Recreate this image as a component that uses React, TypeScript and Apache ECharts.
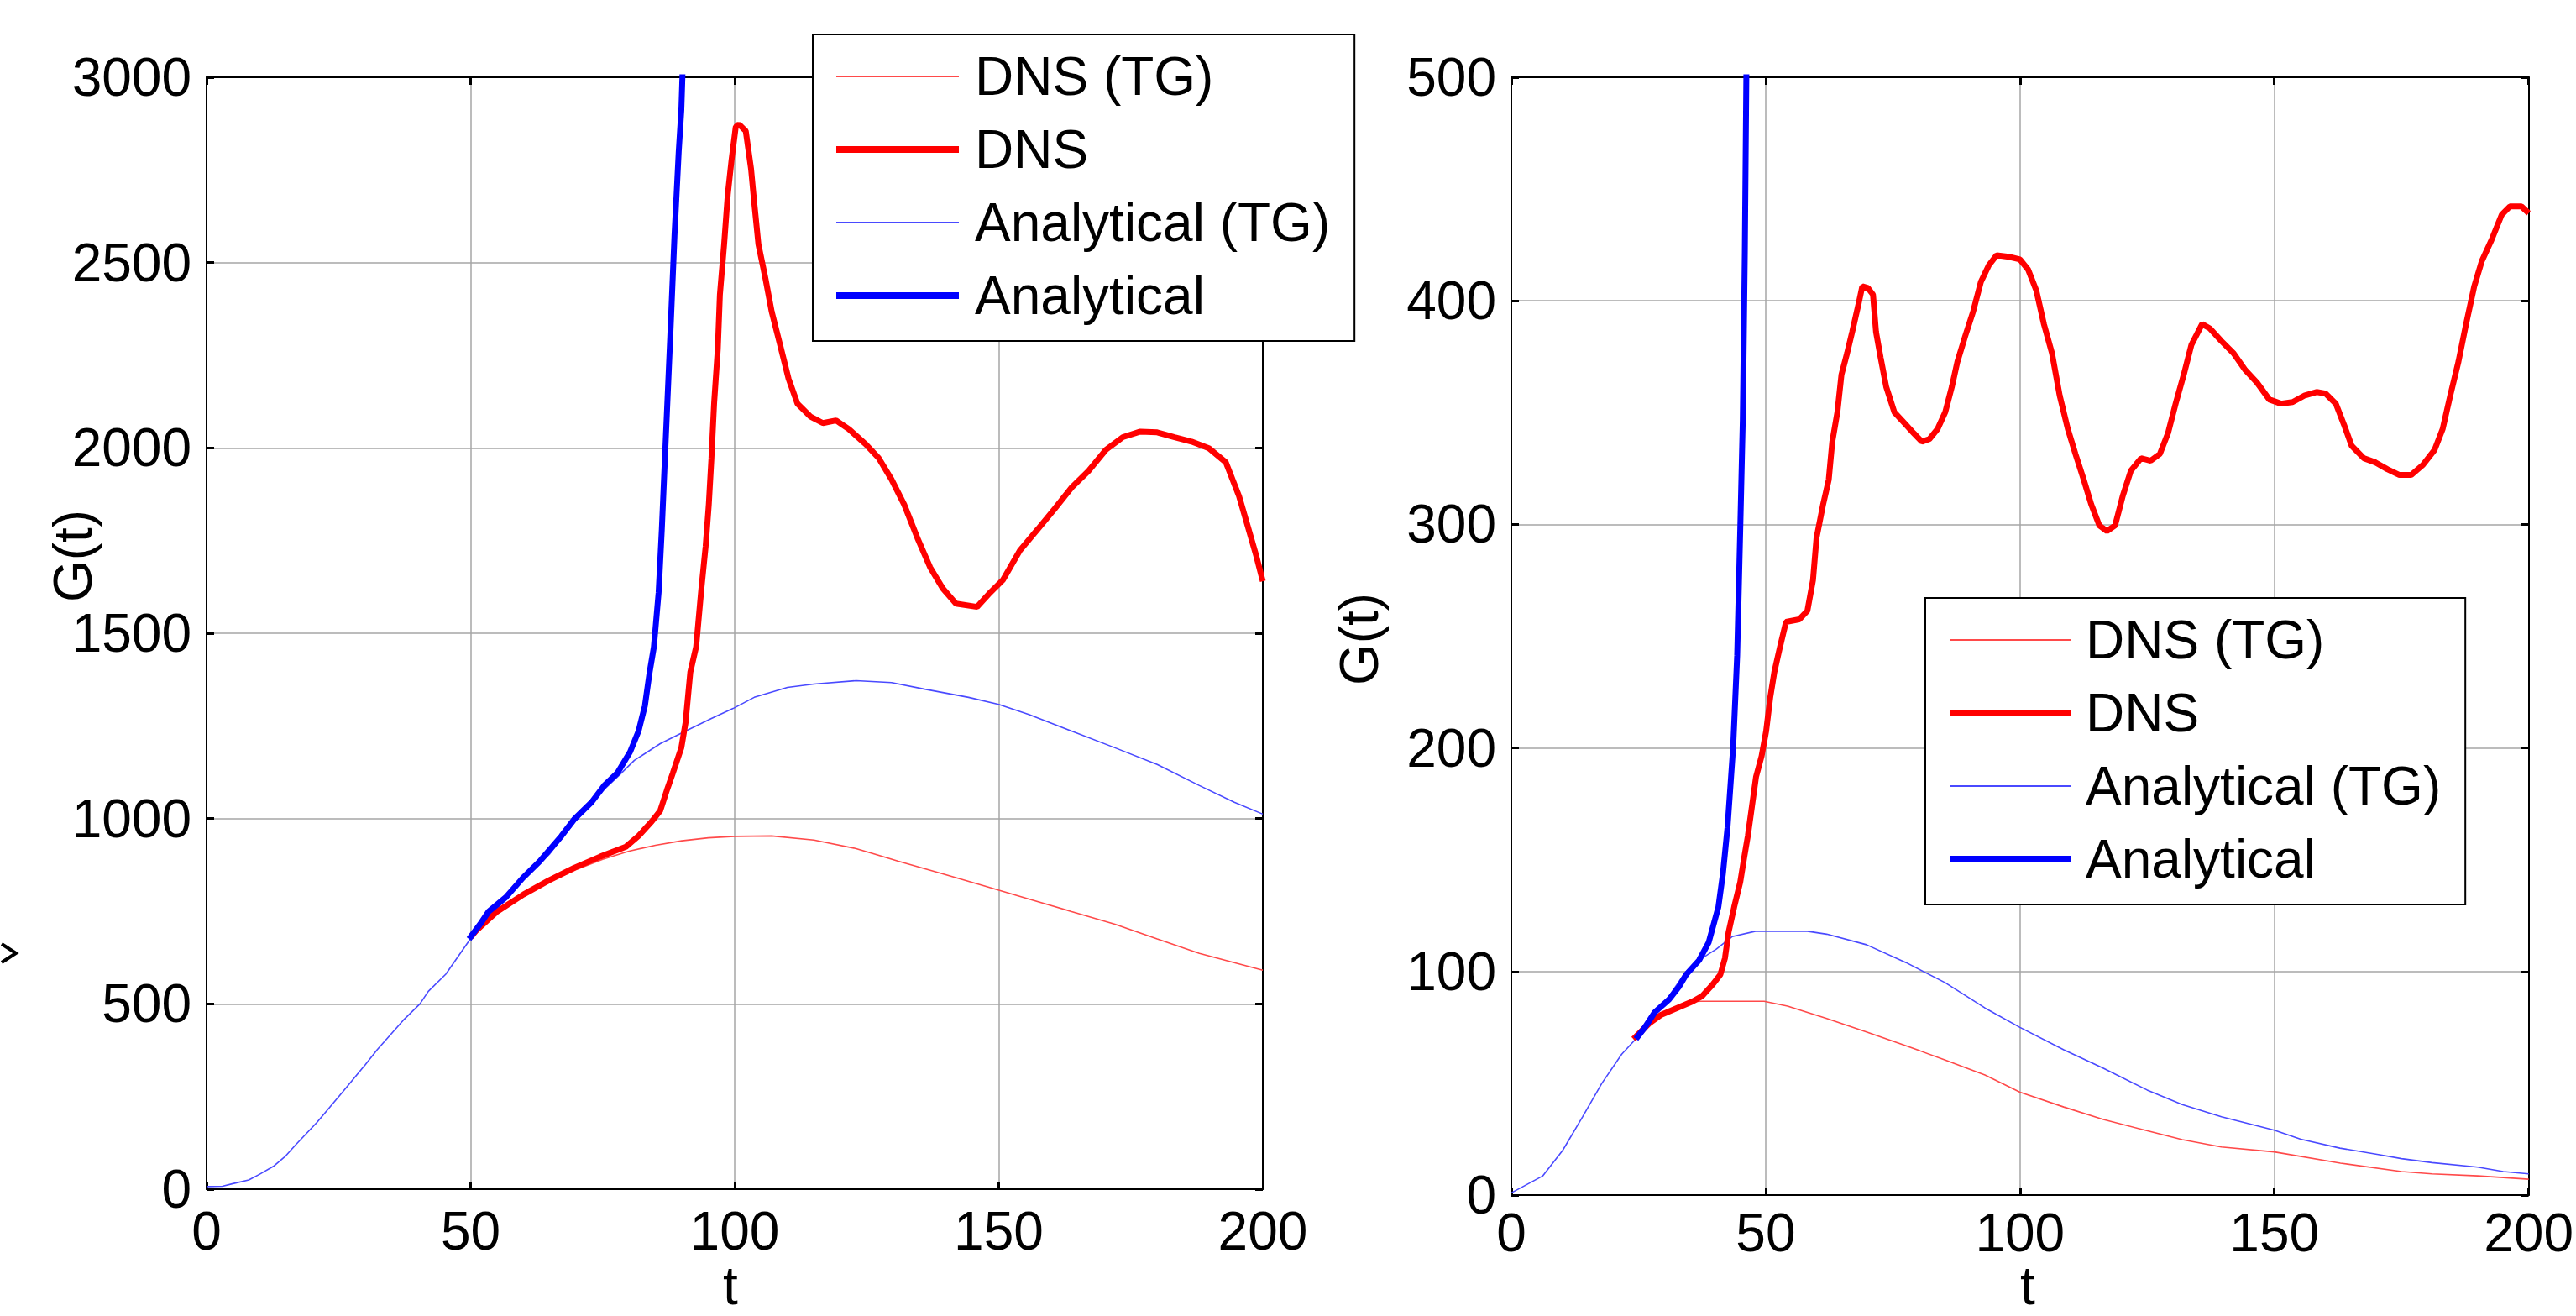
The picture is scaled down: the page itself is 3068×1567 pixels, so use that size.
import React, { useEffect, useRef } from "react";
import * as echarts from "echarts";

const FONT = "Liberation Sans, Arial, Helvetica, sans-serif";

const seriesNames = ["DNS (TG)", "DNS", "Analytical (TG)", "Analytical"];
const axisTitleX = "t";
const axisTitleY = "G(t)";
const leftYMax = 3000;
const leftYStep = 500;
const rightYMax = 500;
const rightYStep = 100;
const xMax = 200;
const xStep = 50;

// ---- Left panel data: [t, G(t)] ----
const leftDnsTG: number[][] = [
  [50, 675], [55, 745], [60, 790], [65, 830], [70, 862], [75, 890], [80, 912], [85, 928],
  [90, 940], [95, 948], [100, 952], [107, 953], [115, 942], [123, 919], [131, 885],
  [139.4, 851], [147.6, 817], [155.7, 783], [163.8, 749], [172, 715], [180, 675],
  [188, 636], [200, 591],
];
const leftDns: number[][] = [
  [50, 680], [51, 697], [55, 749], [60, 795], [64.8, 833], [69.6, 867], [74.5, 897],
  [79.4, 924], [81.8, 953], [84.3, 992], [85.9, 1021], [87.2, 1078], [88.3, 1123],
  [89.9, 1191], [90.7, 1259], [91.6, 1395], [92.7, 1463], [93.7, 1621], [94.5, 1734],
  [95.1, 1847], [95.6, 1972], [96.1, 2119], [96.8, 2266], [97.2, 2413], [98, 2549],
  [98.7, 2685], [99.4, 2776], [100.2, 2866], [100.8, 2873], [102.1, 2855], [103.1, 2753],
  [103.7, 2662], [104.5, 2549], [105.8, 2459], [107, 2368], [108.6, 2278], [110.2, 2187],
  [111.9, 2119], [114.3, 2085], [116.7, 2067], [119.2, 2074], [121.6, 2051], [124.8, 2010],
  [127.3, 1972], [129.7, 1915], [132.1, 1847], [134.6, 1757], [137, 1678], [139.4, 1621],
  [141.9, 1580], [145.9, 1571], [148.4, 1610], [150.8, 1644], [154, 1723], [157.3, 1779],
  [160.6, 1836], [163.8, 1893], [167, 1938], [170.3, 1995], [173.5, 2029], [176.8, 2044],
  [180, 2042], [183.3, 2029], [186.5, 2017], [189.8, 1999], [193, 1961], [195.5, 1870],
  [197.1, 1791], [198.7, 1712], [200, 1640],
];
const leftAnalyticalTG: number[][] = [
  [0, 7], [3, 8], [5, 15], [8, 25], [10, 40], [12.8, 63], [15, 90], [16.9, 120], [20.9, 180],
  [25.8, 263], [30, 335], [32.3, 376], [37.2, 455], [40.4, 500], [42, 534], [45.3, 580],
  [49.7, 670], [53, 725], [56.7, 785], [60, 835], [65, 905], [70, 995], [75, 1075],
  [78, 1115], [81, 1157], [85.9, 1202], [90.7, 1236], [95.6, 1270], [99.7, 1297],
  [103.7, 1327], [110, 1354], [115, 1363], [123, 1372], [129.7, 1367], [136, 1349],
  [144.3, 1327], [150, 1308], [155.7, 1281], [163.8, 1236], [172, 1191], [180, 1146],
  [188, 1089], [194.6, 1044], [200, 1012],
];
const leftAnalytical: number[][] = [
  [49.7, 675], [51.8, 715], [53.4, 749], [56.7, 788], [59.9, 840], [63.1, 885], [67.2, 953],
  [69.6, 998], [72.9, 1044], [75.3, 1089], [77.8, 1123], [80.2, 1180], [81.8, 1236],
  [83, 1304], [83.9, 1395], [84.7, 1463], [85.6, 1610], [86.2, 1779], [87, 2040],
  [87.8, 2300], [88.6, 2572], [89.4, 2798], [89.9, 2911], [90.1, 3000], [90.3, 3150],
];

// ---- Right panel data: [t, G(t)] ----
const rightDnsTG: number[][] = [
  [24, 69.8], [27.2, 77], [29.5, 80.7], [32.6, 83.7], [35.7, 86.5], [37.2, 86.7],
  [41.9, 86.7], [49.7, 86.7], [54.3, 84.5], [62, 79], [69.8, 73], [77.6, 66.8],
  [85.3, 60.4], [93.1, 53.7], [100, 46], [108.6, 39.4], [116.4, 33.8], [124.1, 29.3],
  [131.9, 24.8], [139.6, 21.5], [150, 19.3], [163, 14.3], [175, 10.5], [181, 9.5],
  [190, 8.6], [200, 7.1],
];
const rightDns: number[][] = [
  [24, 69.8], [27.2, 77], [29.5, 80.7], [32.6, 83.7], [35.7, 86.7], [37.5, 89], [39.6, 94.2],
  [41.1, 98.7], [42, 106], [42.7, 117.5], [43.8, 128.8], [45, 140], [45.8, 151.3],
  [46.5, 160.7], [47.3, 173.8], [48.1, 187], [49.2, 196.3], [50.1, 207.6], [50.9, 222.6],
  [51.7, 233.9], [52.8, 245], [54, 256.4], [56.6, 257.5], [58.2, 261.3], [59.3, 275],
  [60, 294], [61.3, 309], [62.4, 320], [63.1, 337], [64.1, 350.2], [64.9, 367], [66, 376.5],
  [67, 386], [68.3, 399], [69, 406.5], [70.1, 405.8], [71.1, 402.8], [71.7, 386],
  [72.6, 374.6], [73.7, 361.5], [75.3, 350.2], [76.8, 346.5], [79.1, 340.8], [80.7, 337],
  [82.2, 338.2], [83.8, 342.7], [85.3, 350.2], [86.6, 361.5], [87.7, 372.8], [89.2, 384],
  [90.8, 395.3], [92.3, 408.4], [93.9, 416], [95.4, 420.4], [97.8, 419.7], [100, 418.5],
  [101.6, 414], [103.2, 404.7], [104.7, 389.6], [106.3, 376.5], [107.8, 357.7],
  [109.4, 342.7], [110.9, 331.5], [112.5, 320.2], [114, 309], [115.6, 299.5], [117.1, 297],
  [118.7, 299.5], [120.2, 312.7], [121.8, 324], [123.8, 329.6], [125.7, 328.5],
  [127.5, 331.5], [129.1, 340.8], [130.6, 354], [132.2, 367], [133.7, 380.3], [135.8, 389.6],
  [137.3, 387.7], [139.6, 382], [142, 376.5], [144.3, 369], [146.6, 363.4], [149, 355.9],
  [151.3, 354], [153.6, 354.7], [156, 357.7], [158.3, 359.2], [160.1, 358.5], [162.1, 354],
  [163.7, 344.6], [165.2, 335.2], [167.6, 329.6], [169.9, 327.7], [172.2, 324.7],
  [174.6, 322.1], [176.9, 322.1], [179.2, 326.6], [181.5, 333.3], [183.1, 342.7],
  [184.6, 357.7], [186.2, 372.8], [187.7, 389.6], [189.3, 406.5], [190.8, 417.8],
  [192.7, 427.2], [194.7, 438.5], [196.3, 442.2], [198.6, 442.2], [200, 439.2],
];
const rightAnalyticalTG: number[][] = [
  [0, 1], [6.2, 8.6], [10.1, 20], [14, 35], [17.8, 50], [21.7, 63], [24.8, 70.6], [28, 80],
  [31, 89], [34, 99], [37.2, 105.5], [40.3, 110], [43.4, 115.6], [48, 118], [54.3, 118],
  [58.2, 118], [62, 116.7], [69.8, 112], [77.6, 104], [85.3, 95], [93.1, 83.7], [100, 75],
  [108.6, 65], [116.4, 56.7], [125, 47], [131.9, 40.5], [139.6, 35], [150, 29],
  [155.2, 25], [162.9, 21], [170.7, 18], [175, 16.3], [181, 14.5], [190, 12.5],
  [195, 10.5], [200, 9.5],
];
const rightAnalytical: number[][] = [
  [24.5, 69.8], [26.4, 75.5], [28.2, 81.8], [31, 87.5], [32.9, 93], [34.4, 98.7],
  [36.9, 105], [38.8, 113], [40.7, 128.8], [41.6, 143.8], [42.5, 164.4], [43.6, 200],
  [44.4, 241.4], [45, 297.7], [45.5, 346.5], [45.9, 421.6], [46.2, 500], [46.4, 560],
];

const THIN_RED = "#ff4a4a";
const THIN_BLUE = "#4a4aff";
const RED = "#ff0000";
const BLUE = "#0000ff";

export default function App() {
  const ref = useRef<HTMLDivElement>(null);

  useEffect(() => {
    if (!ref.current) return;
    const chart = echarts.init(ref.current, undefined, { renderer: "svg" });

    const labelStyle = { fontSize: 64, fontFamily: FONT, color: "#000" };
    const plainNum = (v: number) => String(v);
    const axisLineStyle = { show: true, onZero: false, lineStyle: { color: "#000", width: 2 } };
    const tickStyle = { show: true, inside: true, length: 9, lineStyle: { color: "#000", width: 3 } };
    const splitStyle = { show: true, lineStyle: { color: "#a6a6a6", width: 1.5 } };

    const xMain = (gridIndex: number, margin: number) => ({
      type: "value", gridIndex, min: 0, max: xMax, interval: xStep, position: "bottom",
      axisLine: axisLineStyle, axisTick: tickStyle, splitLine: splitStyle,
      axisLabel: { ...labelStyle, margin, lineHeight: 52, formatter: plainNum },
    });
    const xMirror = (gridIndex: number) => ({
      type: "value", gridIndex, min: 0, max: xMax, interval: xStep, position: "top",
      axisLine: axisLineStyle, axisTick: tickStyle, splitLine: { show: false },
      axisLabel: { show: false },
    });
    const yMain = (gridIndex: number, max: number, step: number) => ({
      type: "value", gridIndex, min: 0, max, interval: step, position: "left",
      axisLine: axisLineStyle, axisTick: tickStyle, splitLine: splitStyle,
      axisLabel: { ...labelStyle, margin: 18, formatter: plainNum },
    });
    const yMirror = (gridIndex: number, max: number, step: number) => ({
      type: "value", gridIndex, min: 0, max, interval: step, position: "right",
      axisLine: axisLineStyle, axisTick: tickStyle, splitLine: { show: false },
      axisLabel: { show: false },
    });

    const line = (name: string, data: number[][], idx: number, color: string, width: number, z: number) => ({
      type: "line", name, data, xAxisIndex: idx, yAxisIndex: idx,
      showSymbol: false, symbol: "none", smooth: false, clip: true, silent: true,
      color, itemStyle: { color }, lineStyle: { color, width }, z,
    });

    const thinIcon = "path://M0,0H146V2H0Z";
    const thickIcon = "path://M0,0H146V8H0Z";
    const legendColors = [THIN_RED, RED, THIN_BLUE, BLUE];
    const legendData = seriesNames.map((n, i) => ({
      name: n,
      icon: i % 2 === 0 ? thinIcon : thickIcon,
      itemStyle: { color: legendColors[i], borderWidth: 0 },
    }));
    const legendBase = {
      orient: "vertical", selectedMode: false, itemHeight: 20, itemGap: 23,
      borderColor: "#000", borderWidth: 2, backgroundColor: "#fff", borderRadius: 0,
      symbolKeepAspect: true, data: legendData, z: 10,
    };

    const titleStyle = { fontSize: 64, fontFamily: FONT, fill: "#000", align: "center", verticalAlign: "middle" };
    const xTitleStyle = { ...titleStyle, lineHeight: 42 };

    chart.setOption({
      animation: false,
      backgroundColor: "#fff",
      grid: [
        { left: 246, top: 92, width: 1258, height: 1324, containLabel: false },
        { left: 1800, top: 92, width: 1240, height: 1331, containLabel: false },
      ],
      xAxis: [xMain(0, 24), xMirror(0), xMain(1, 19), xMirror(1)],
      yAxis: [
        yMain(0, leftYMax, leftYStep), yMirror(0, leftYMax, leftYStep),
        yMain(1, rightYMax, rightYStep), yMirror(1, rightYMax, rightYStep),
      ],
      legend: [
        {
          ...legendBase, left: 968, top: 41, padding: [18, 29, 22, 28], itemWidth: 146,
          textStyle: { ...labelStyle, padding: [0, 0, 0, 14] },
        },
        {
          ...legendBase, left: 2293, top: 712, padding: [18, 29, 22, 29], itemWidth: 145,
          textStyle: { ...labelStyle, padding: [0, 0, 0, 12] },
        },
      ],
      series: [
        line(seriesNames[0], leftDnsTG, 0, THIN_RED, 1.6, 2),
        line(seriesNames[1], leftDns, 0, RED, 7, 3),
        line(seriesNames[2], leftAnalyticalTG, 0, THIN_BLUE, 1.6, 2),
        line(seriesNames[3], leftAnalytical, 0, BLUE, 7, 4),
        line(seriesNames[0], rightDnsTG, 2, THIN_RED, 1.6, 2),
        line(seriesNames[1], rightDns, 2, RED, 7, 3),
        line(seriesNames[2], rightAnalyticalTG, 2, THIN_BLUE, 1.6, 2),
        line(seriesNames[3], rightAnalytical, 2, BLUE, 7, 4),
      ].map((s, i) => (i >= 4 ? { ...s, xAxisIndex: 2, yAxisIndex: 2 } : s)),
      graphic: [
        { type: "text", x: 87, y: 662, rotation: Math.PI / 2, z: 20, style: { ...titleStyle, text: axisTitleY } },
        { type: "text", x: 1619, y: 761, rotation: Math.PI / 2, z: 20, style: { ...titleStyle, text: axisTitleY } },
        { type: "text", x: 870, y: 1531, z: 20, style: { ...xTitleStyle, text: axisTitleX } },
        { type: "text", x: 2415, y: 1531, z: 20, style: { ...xTitleStyle, text: axisTitleX } },
        {
          type: "polyline", z: 20,
          shape: { points: [[2, 1124], [19, 1135], [2, 1146]] },
          style: { stroke: "#000", lineWidth: 4, fill: "none" },
        },
      ],
    });

    return () => chart.dispose();
  }, []);

  return (
    <div
      ref={ref}
      style={{ position: "absolute", left: 0, top: 0, width: 3068, height: 1567, background: "#fff" }}
    />
  );
}
